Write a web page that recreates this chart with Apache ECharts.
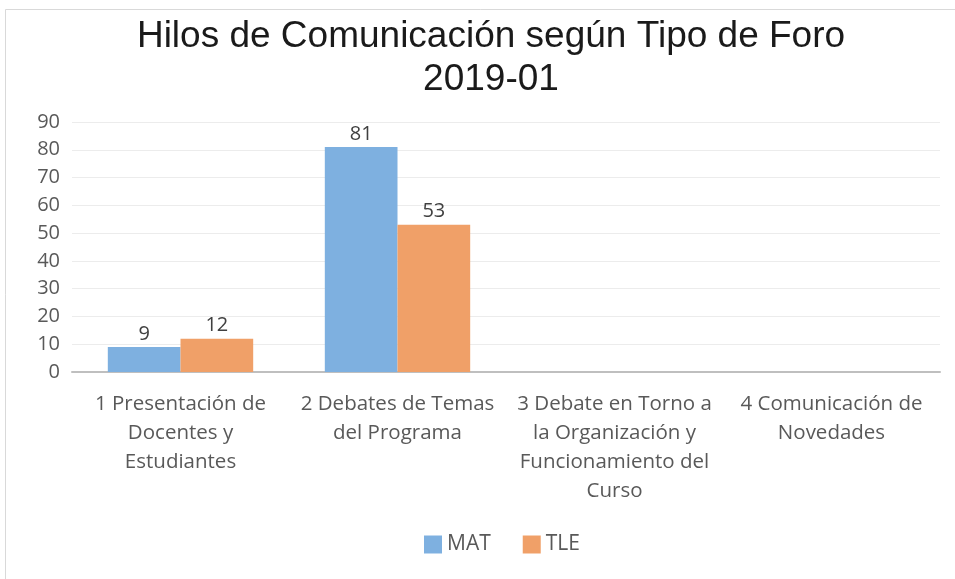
<!DOCTYPE html>
<html>
<head>
<meta charset="utf-8">
<script src="https://cdn.jsdelivr.net/npm/echarts@6/dist/echarts.min.js"></script>
<style>
  html, body { margin: 0; padding: 0; background: #fff; }
  #chart { width: 955px; height: 579px; }
</style>
</head>
<body>
<div id="chart"></div>
<script>
// categorias del eje x (con saltos de linea como en el original)
var categories = [
  "1 Presentación de\nDocentes y\nEstudiantes",
  "2 Debates de Temas\ndel Programa",
  "3 Debate en Torno a\nla Organización y\nFuncionamiento del\nCurso",
  "4 Comunicación de\nNovedades"
];
var matValues = [9, 81, 0, 0];
var tleValues = [12, 53, 0, 0];
var yTicks = [0, 10, 20, 30, 40, 50, 60, 70, 80, 90];

var labelFont = "'Open Sans', sans-serif";

function barLabel() {
  return {
    show: true,
    position: "top",
    color: "#404040",
    fontSize: 20,
    fontFamily: labelFont,
    distance: 3,
    formatter: function (p) {
      return p.value === 0 ? "" : p.value;
    }
  };
}

var myChart = echarts.init(document.getElementById("chart"));
var option = {
  backgroundColor: "#fff",
  animation: false,
  title: {
    text: "Hilos de Comunicación según Tipo de Foro\n2019-01",
    left: 486,
    textAlign: "center",
    top: 10,
    textStyle: {
      fontFamily: "'Liberation Sans', Arial, sans-serif",
      fontWeight: "normal",
      fontSize: 37,
      lineHeight: 43,
      color: "#1a1a1a"
    }
  },
  graphic: [
    {
      type: "rect",
      shape: { x: 5.5, y: 9.5, width: 960, height: 580 },
      style: { fill: "none", stroke: "#d9d9d9", lineWidth: 1 },
      silent: true
    }
  ],
  legend: {
    data: ["MAT", "TLE"],
    top: 529,
    left: 419,
    itemWidth: 18,
    itemHeight: 18,
    itemGap: 32,
    icon: "rect",
    textStyle: {
      color: "#595959",
      fontSize: 21,
      fontFamily: labelFont
    }
  },
  grid: {
    left: 72,
    right: 15,
    top: 122,
    bottom: 207,
    containLabel: false
  },
  xAxis: {
    type: "category",
    data: categories,
    axisLine: { lineStyle: { color: "#bfbfbf", width: 2 } },
    axisTick: { show: false },
    axisLabel: {
      interval: 0,
      color: "#595959",
      fontSize: 20.5,
      lineHeight: 29,
      fontFamily: labelFont,
      margin: 18
    }
  },
  yAxis: {
    type: "value",
    min: yTicks[0],
    max: yTicks[yTicks.length - 1],
    interval: 10,
    axisLine: { show: false },
    axisTick: { show: false },
    splitLine: { lineStyle: { color: "#ececec", width: 1 } },
    axisLabel: {
      color: "#595959",
      fontSize: 20,
      fontFamily: labelFont,
      margin: 12
    }
  },
  series: [
    {
      name: "MAT",
      type: "bar",
      data: matValues,
      barGap: "0%",
      barCategoryGap: "33%",
      itemStyle: { color: "#7eb0e0" },
      label: barLabel()
    },
    {
      name: "TLE",
      type: "bar",
      data: tleValues,
      itemStyle: { color: "#f0a068" },
      label: barLabel()
    }
  ]
};
myChart.setOption(option);
</script>
</body>
</html>
